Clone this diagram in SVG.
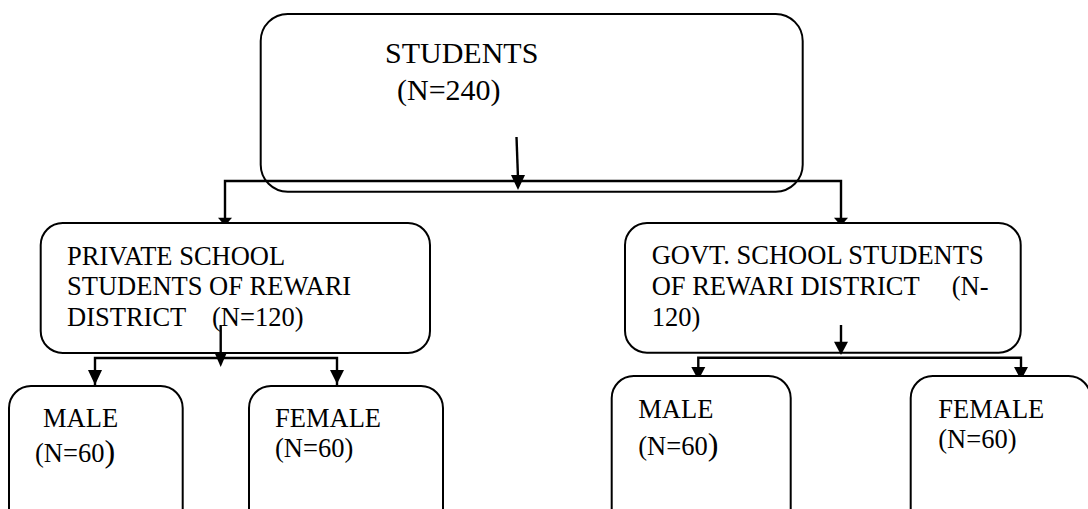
<svg xmlns="http://www.w3.org/2000/svg" width="1088" height="509" viewBox="0 0 1088 509">
<style>
.box{fill:none;stroke:#000;stroke-width:2}
.ln{fill:none;stroke:#000;stroke-width:2.4}
.ah{fill:#000;stroke:none}
.t{font-family:"Times New Roman","Liberation Serif","DejaVu Serif",serif;font-size:26.5px;fill:#000}
.big{font-family:"Times New Roman","Liberation Serif","DejaVu Serif",serif;font-size:30px;fill:#000}
.par{font-size:32px}
</style>
<rect width="1088" height="509" fill="#fff"/>
<g id="n-students">
<rect class="box" x="260.7" y="14" width="542" height="177.7" rx="27"/>
<text class="big" x="385" y="62.7">STUDENTS</text>
<text class="big" x="397" y="100">(N=240)</text>
</g>
<g id="n-private">
<rect class="box" x="40.7" y="223" width="389.3" height="130" rx="22"/>
<text class="t" x="67" y="265">PRIVATE SCHOOL</text>
<text class="t" x="67" y="295">STUDENTS OF REWARI</text>
<text class="t" x="67" y="326">DISTRICT</text>
<text class="t" x="212" y="326">(N=120)</text>
</g>
<g id="n-govt">
<rect class="box" x="625" y="223" width="395.7" height="129.7" rx="22"/>
<text class="t" x="651.7" y="264">GOVT. SCHOOL STUDENTS</text>
<text class="t" x="651.7" y="295">OF REWARI DISTRICT</text>
<text class="t" x="951.7" y="295">(N-</text>
<text class="t" x="651.7" y="326">120)</text>
</g>
<g id="n-private-male">
<rect class="box" x="9" y="386" width="173.7" height="160" rx="22"/>
<text class="t" x="43" y="426.7">MALE</text>
<text class="t" x="35" y="461.7">(N=60<tspan class="par">)</tspan></text>
</g>
<g id="n-private-female">
<rect class="box" x="249" y="386" width="194" height="160" rx="22"/>
<text class="t" x="275" y="426.7">FEMALE</text>
<text class="t" x="275" y="456.7">(N=60)</text>
</g>
<g id="n-govt-male">
<rect class="box" x="611.7" y="376" width="179" height="170" rx="22"/>
<text class="t" x="638.3" y="418.3">MALE</text>
<text class="t" x="638.3" y="455">(N=60<tspan class="par">)</tspan></text>
</g>
<g id="n-govt-female">
<rect class="box" x="910.7" y="376" width="180" height="170" rx="22"/>
<text class="t" x="938.3" y="418.3">FEMALE</text>
<text class="t" x="938.3" y="448.3">(N=60)</text>
</g>
<g id="connectors">
<path class="ln" d="M516.5 137 L518 178"/>
<polygon class="ah" points="511,175 525,175 518,190"/>
<path class="ln" d="M225 223 V181 H841 V223"/>
<polygon class="ah" points="218,217.7 232,217.7 227.5,223 222.5,223"/>
<polygon class="ah" points="834,217.7 848,217.7 843.5,223 838.5,223"/>
<path class="ln" d="M220.7 325 V356"/>
<polygon class="ah" points="214.7,353 226.7,353 220.7,367"/>
<path class="ln" d="M95 386 V358 H337 V386"/>
<polygon class="ah" points="88,370 102,370 95,385"/>
<polygon class="ah" points="330,370 344,370 337,384"/>
<path class="ln" d="M841 325 V344"/>
<polygon class="ah" points="834,341.7 848,341.7 841,355"/>
<path class="ln" d="M698.3 376 V357.7 H1021 V376"/>
<polygon class="ah" points="691.3,367 705.3,367 700.5,376 696.1,376"/>
<polygon class="ah" points="1014,367 1028,367 1023.2,376 1018.8,376"/>
</g>
</svg>
